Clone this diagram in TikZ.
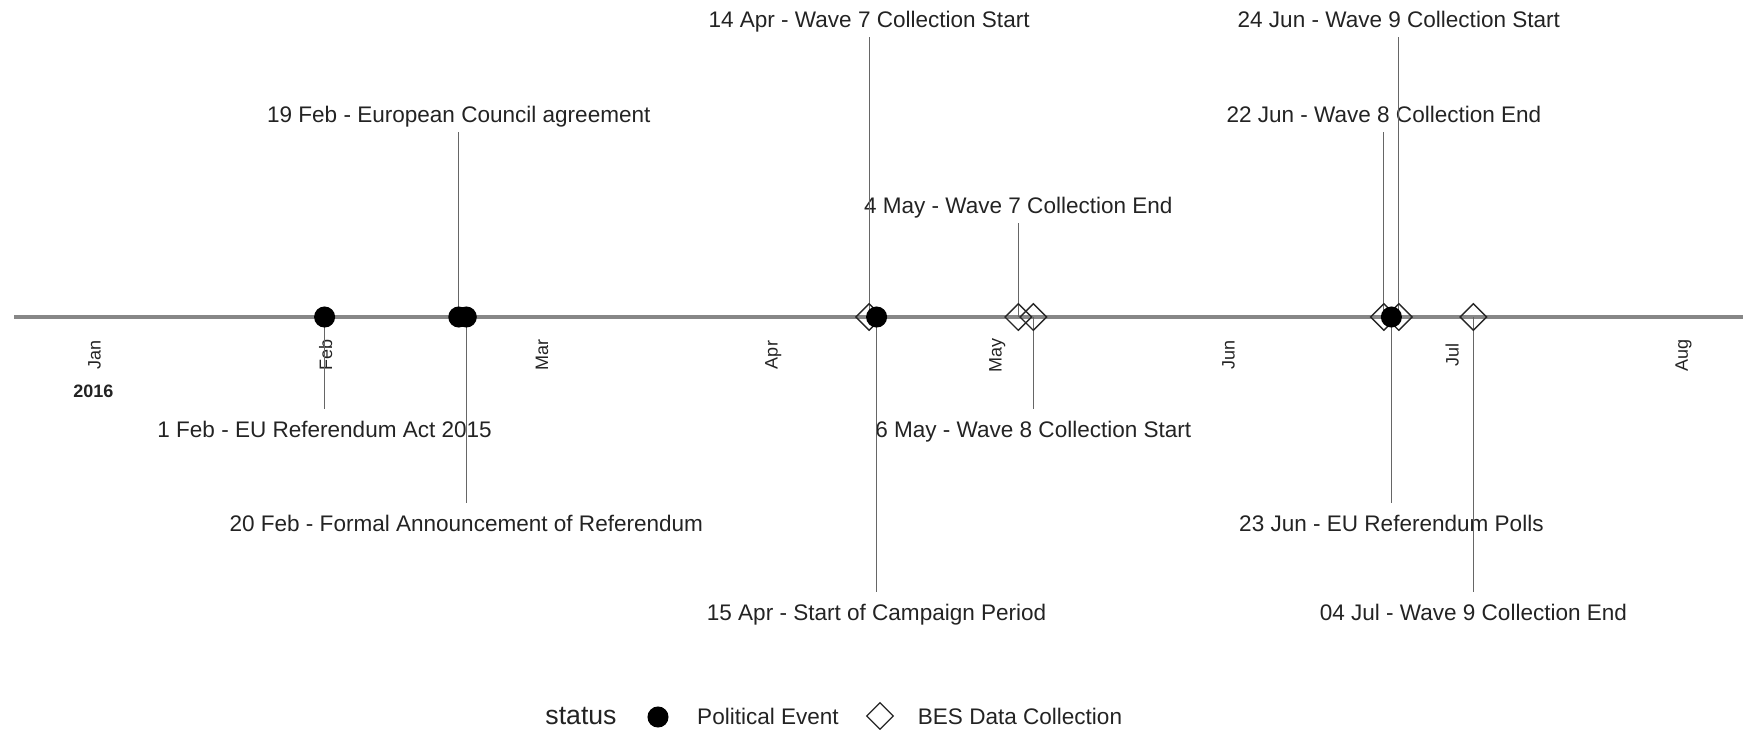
\documentclass[tikz,border=0pt]{standalone}
\usepackage{fontspec}
\setmainfont{Liberation Sans}
\usetikzlibrary{shapes.geometric}

\definecolor{axisgrey}{RGB}{135,135,135}
\definecolor{textgrey}{RGB}{35,35,35}

\tikzset{
  polevent/.style={circle,fill=black,inner sep=0pt,minimum size=15.8pt},
  besdata/.style={diamond,draw=black!85,line width=1pt,inner sep=0pt,minimum size=20.3pt},
  evlabel/.style={inner sep=0pt,text height=21pt,text depth=7.5pt,anchor=base,text=textgrey,font=\fontsize{16.9}{20}\selectfont},
  monthlabel/.style={rotate=90,inner sep=0pt,text=textgrey,font=\fontsize{13.5}{16}\selectfont},
  stem/.style={draw=black!60,line width=0.85pt},
}

\begin{document}
\begin{tikzpicture}[x=0.75pt,y=0.75pt,yscale=-1,xscale=1]
\useasboundingbox (0,0) rectangle (1743,729);

%Shape: Axis [id:timeline]
\draw [color=axisgrey,line width=2.4pt] (14,317) -- (1743,317) ;

% Event points on the axis
\coordinate (feb01) at (324.6,317);
\coordinate (feb19) at (458.8,317);
\coordinate (feb20) at (466.3,317);
\coordinate (apr14) at (869.1,317);
\coordinate (apr15) at (876.6,317);
\coordinate (may04) at (1018.3,317);
\coordinate (may06) at (1033.3,317);
\coordinate (jun22) at (1383.9,317);
\coordinate (jun23) at (1391.4,317);
\coordinate (jun24) at (1398.8,317);
\coordinate (jul04) at (1473.4,317);

% Month Nodes
\node (mjan) at (94.5,355) [monthlabel] {Jan};
\node (mfeb) at (325.8,355) [monthlabel] {Feb};
\node (mmar) at (542.1,355) [monthlabel] {Mar};
\node (mapr) at (773.4,355) [monthlabel] {Apr};
\node (mmay) at (997.2,355) [monthlabel] {May};
\node (mjun) at (1228.4,355) [monthlabel] {Jun};
\node (mjul) at (1452.2,355) [monthlabel] {Jul};
\node (maug) at (1683.5,355) [monthlabel] {Aug};
% Text Node
\node (year) at (93.3,397) [anchor=base,inner sep=0pt,text=textgrey,font=\fontsize{13.5}{16}\selectfont\bfseries] {2016};

% Labels above the axis
\node (lapr14) at (869.1,27) [evlabel] {14 Apr - Wave 7 Collection Start};
\node (ljun24) at (1398.8,27) [evlabel] {24 Jun - Wave 9 Collection Start};
\node (lfeb19) at (458.8,122) [evlabel] {19 Feb - European Council agreement};
\node (ljun22) at (1383.9,122) [evlabel] {22 Jun - Wave 8 Collection End};
\node (lmay04) at (1018.3,213) [evlabel] {4 May - Wave 7 Collection End};
% Labels below the axis
\node (lfeb01) at (324.6,437) [evlabel] {1 Feb - EU Referendum Act 2015};
\node (lmay06) at (1033.3,437) [evlabel] {6 May - Wave 8 Collection Start};
\node (lfeb20) at (466.3,531) [evlabel] {20 Feb - Formal Announcement of Referendum};
\node (ljun23) at (1391.4,531) [evlabel] {23 Jun - EU Referendum Polls};
\node (lapr15) at (876.6,620) [evlabel] {15 Apr - Start of Campaign Period};
\node (ljul04) at (1473.4,620) [evlabel] {04 Jul - Wave 9 Collection End};

%Straight Lines
\draw [stem] (lapr14.south) -- (apr14) ;
\draw [stem] (ljun24.south) -- (jun24) ;
\draw [stem] (lfeb19.south) -- (feb19) ;
\draw [stem] (ljun22.south) -- (jun22) ;
\draw [stem] (lmay04.south) -- (may04) ;
\draw [stem] (lfeb01.north) -- (feb01) ;
\draw [stem] (lmay06.north) -- (may06) ;
\draw [stem] (lfeb20.north) -- (feb20) ;
\draw [stem] (ljun23.north) -- (jun23) ;
\draw [stem] (lapr15.north) -- (apr15) ;
\draw [stem] (ljul04.north) -- (jul04) ;

%Shape: Markers
\node (pfeb01) at (feb01) [polevent] {};
\node (pfeb19) at (feb19) [polevent] {};
\node (pfeb20) at (feb20) [polevent] {};
\node (bapr14) at (apr14) [besdata] {};
\node (papr15) at (apr15) [polevent] {};
\node (bmay04) at (may04) [besdata] {};
\node (bmay06) at (may06) [besdata] {};
\node (bjun22) at (jun22) [besdata] {};
\node (bjun24) at (jun24) [besdata] {};
\node (pjun23) at (jun23) [polevent] {};
\node (bjul04) at (jul04) [besdata] {};

% Legend
\node (legtitle) at (581,724) [anchor=base,inner sep=0pt,text=textgrey,font=\fontsize{20}{24}\selectfont] {status};
\node (legdot) at (658,717) [polevent] {};
\node (legpol) at (768,724) [anchor=base,inner sep=0pt,text=textgrey,font=\fontsize{16.9}{20}\selectfont] {Political Event};
\node (legdia) at (880,716) [besdata] {};
\node (legbes) at (1020,724) [anchor=base,inner sep=0pt,text=textgrey,font=\fontsize{16.9}{20}\selectfont] {BES Data Collection};

\end{tikzpicture}
\end{document}
